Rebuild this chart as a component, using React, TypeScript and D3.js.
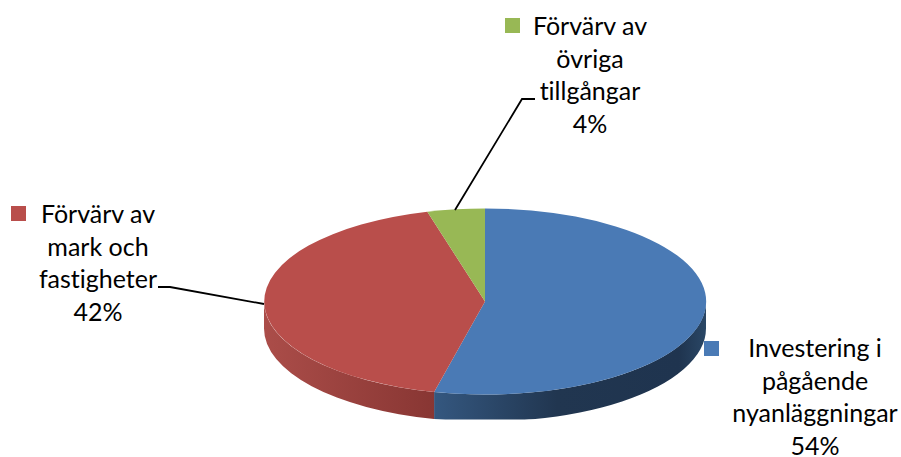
import React from "react";
import * as d3 from "d3";

const categories = ["Investering i pågående nyanläggningar", "Förvärv av mark och fastigheter", "Förvärv av övriga tillgångar"];
const values = [53.7, 42.1, 4.2];
const percentLabels = ["54%", "42%", "4%"];
const labelLines = [
  ["Investering i", "pågående", "nyanläggningar"],
  ["Förvärv av", "mark och", "fastigheter"],
  ["Förvärv av", "övriga", "tillgångar"],
];
const colors = ["#4a7ab5", "#b94e4b", "#98b855"];
const labelX = [815, 98, 590];
const labelY = [357, 223, 35];
const swatches = [[704, 341], [11, 206], [505, 18]];
const leaders = [null, [[158, 287], [170, 287], [264, 304]], [[535, 99], [522, 99], [455, 210]]];

const W = 901, H = 457;
const cx = 485, cy = 301.5, rx = 221, ry = 93, depth = 27, clipBottom = 419.5;
const LH = 32.7;

const arcs = d3.pie<number>().sort(null)(values);
const arcGen = d3.arc<any>().innerRadius(0).outerRadius(1);
const pt = (a: number, dy = 0): [number, number] => [cx + rx * Math.sin(a), cy - ry * Math.cos(a) + dy];

function sidePath(a0: number, a1: number) {
  const s = Math.max(a0, Math.PI / 2), e = Math.min(a1, (3 * Math.PI) / 2);
  if (e <= s) return "";
  const [x0, y0] = pt(s), [x1, y1] = pt(e), [x2, y2] = pt(e, depth), [x3, y3] = pt(s, depth);
  return `M${x0},${y0}A${rx},${ry} 0 0 1 ${x1},${y1}L${x2},${y2}A${rx},${ry} 0 0 0 ${x3},${y3}Z`;
}
const line = d3.line();

export default function App() {
  return (
    <svg width={W} height={H} style={{ position: "absolute", left: 0, top: 0, background: "#fff" }}>
      <defs>
        <linearGradient id="side0" gradientUnits="userSpaceOnUse" x1={435} x2={706} y1={0} y2={0}>
          <stop offset="0" stopColor="#34577f" />
          <stop offset="0.45" stopColor="#213650" />
          <stop offset="0.9" stopColor="#1f344f" />
          <stop offset="1" stopColor="#2a4766" />
        </linearGradient>
        <linearGradient id="side1" gradientUnits="userSpaceOnUse" x1={264} x2={435} y1={0} y2={0}>
          <stop offset="0" stopColor="#ab4d49" />
          <stop offset="1" stopColor="#883633" />
        </linearGradient>
        <clipPath id="bottomClip"><rect x={0} y={0} width={W} height={clipBottom} /></clipPath>
      </defs>
      <g clipPath="url(#bottomClip)">
        {arcs.map((a, i) => {
          const d = sidePath(a.startAngle, a.endAngle);
          return d ? <path key={i} d={d} fill={`url(#side${i})`} /> : null;
        })}
      </g>
      <g transform={`translate(${cx},${cy}) scale(${rx},${ry})`}>
        {arcs.map((a, i) => <path key={i} d={arcGen(a) as string} fill={colors[i]} />)}
      </g>
      {leaders.map((l, i) => l ? <path key={i} d={line(l as [number, number][]) as string} fill="none" stroke="#000" strokeWidth={1.8} /> : null)}
      {categories.map((c, i) => (
        <g key={c}>
          <rect x={swatches[i][0]} y={swatches[i][1]} width={15} height={15} fill={colors[i]} />
          <text textAnchor="middle" fontFamily="Lato, sans-serif" fontSize={25} fill="#000" style={{ fontVariantLigatures: "none" }}>
            {[...labelLines[i], percentLabels[i]].map((t, j) => (
              <tspan key={j} x={labelX[i]} y={labelY[i] + j * LH}>{t}</tspan>
            ))}
          </text>
        </g>
      ))}
    </svg>
  );
}
